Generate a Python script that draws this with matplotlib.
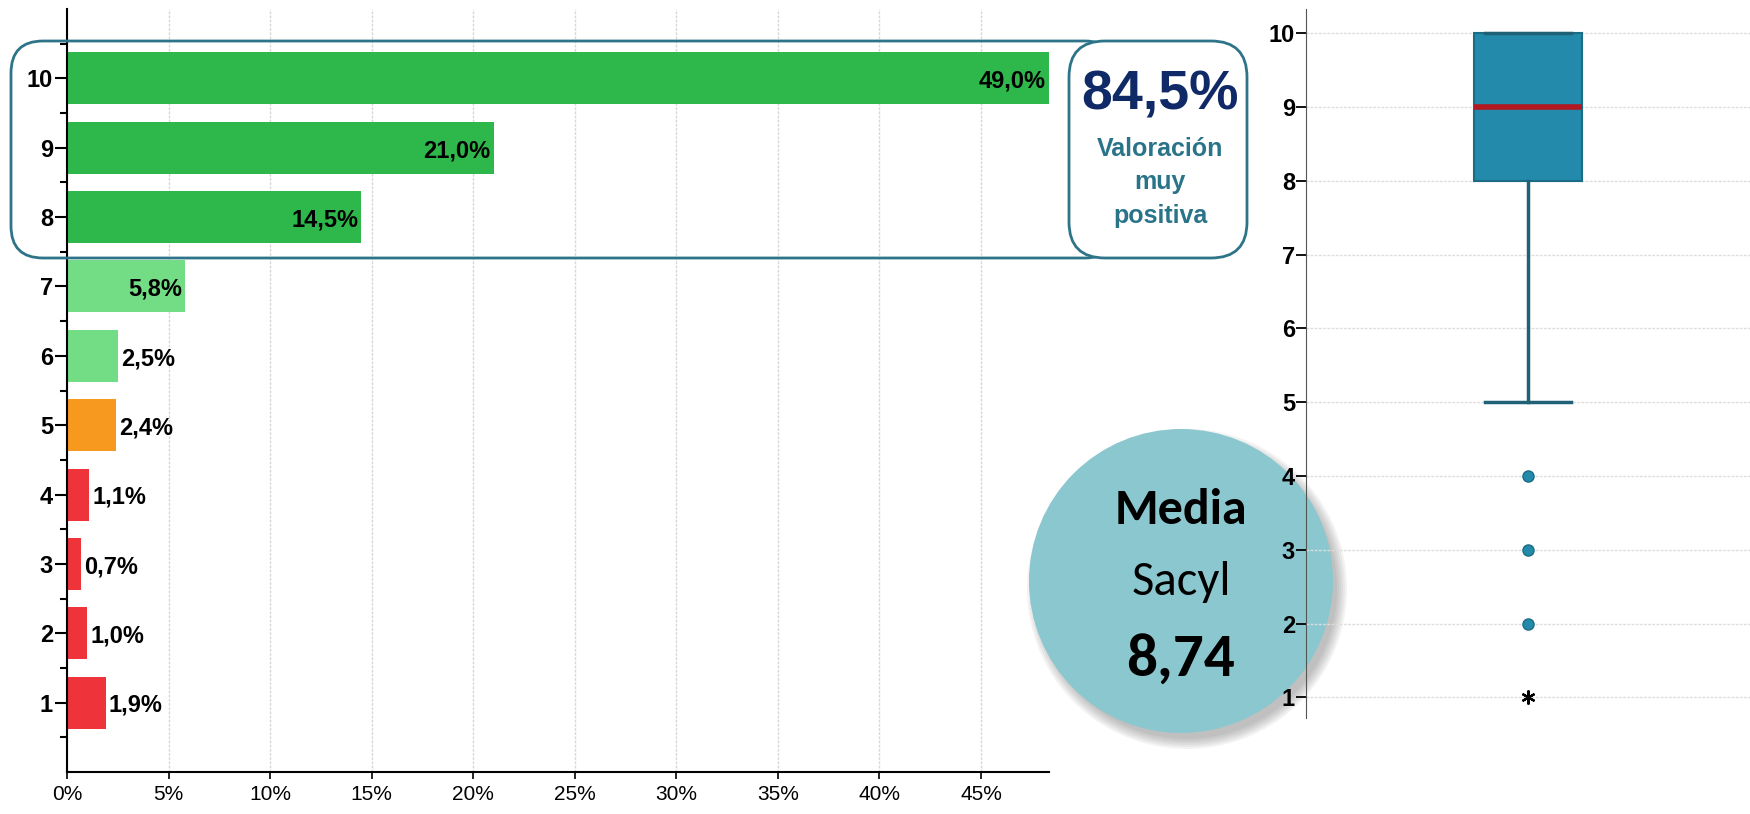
import matplotlib
matplotlib.use("Agg")
import matplotlib.pyplot as plt
from matplotlib.patches import FancyBboxPatch, Circle
from matplotlib.ticker import FixedLocator

# data
scores = [1, 2, 3, 4, 5, 6, 7, 8, 9, 10]
pcts = [1.9, 1.0, 0.7, 1.1, 2.4, 2.5, 5.8, 14.5, 21.0, 49.0]
bar_colors = ["#EF333B"] * 4 + ["#F7991F"] + ["#72DD85"] * 2 + ["#2EB84B"] * 3
xticks = [0, 5, 10, 15, 20, 25, 30, 35, 40, 45]

box_stats = dict(med=9, q1=8, q3=10, whislo=5, whishi=10, fliers=[4, 3, 2])
extremes = [1]

top_share = "84,5%"
top_label = "Valoración\nmuy\npositiva"
mean_value = "8,74"

narrow = ["Liberation Sans Narrow", "Liberation Sans", "DejaVu Sans"]
calib = ["Carlito", "Lato", "DejaVu Sans"]

W, H = 1750, 814
fig = plt.figure(figsize=(W / 100, H / 100), dpi=100)

# %% horizontal bars
ax = fig.add_axes([67 / W, 1 - 772 / H, (1049 - 67) / W, (772 - 9) / H], zorder=0)
ax.barh(scores, pcts, height=0.75, color=bar_colors, zorder=2)
ax.set_xlim(0, 48.35)
ax.set_ylim(0, 11)
ax.set_xticks(xticks)
ax.set_xticklabels([f"{t}%" for t in xticks], family=narrow, fontsize=15)
ax.set_yticks(scores)
ax.set_yticklabels([str(s) for s in scores], family=narrow, fontsize=17, fontweight="bold")
ax.yaxis.set_minor_locator(FixedLocator([s - 0.5 for s in scores] + [10.5]))
ax.tick_params(axis="y", which="major", length=9, width=1.5, pad=1)
ax.tick_params(axis="y", which="minor", length=5, width=1.5)
ax.tick_params(axis="x", length=5, width=1.2, pad=4)
ax.grid(axis="x", color="#D8D8D8", linestyle=(0, (2, 1)), lw=1, zorder=0)
for s in ["top", "right"]:
    ax.spines[s].set_visible(False)
for s in ["left", "bottom"]:
    ax.spines[s].set_linewidth(1.5)

xmax = ax.get_xlim()[1]
for s, v in zip(scores, pcts):
    txt = f"{v:.1f}%".replace(".", ",")
    if v > 5:
        ax.text(min(v, xmax) - 0.15, s - 0.04, txt, ha="right", va="center",
                family=narrow, fontsize=17, fontweight="bold", zorder=3)
    else:
        ax.text(v + 0.15, s - 0.04, txt, ha="left", va="center",
                family=narrow, fontsize=17, fontweight="bold", zorder=3)

# %% overlay: rounded boxes and the circle (under the box plot axis)
ov = fig.add_axes([0, 0, 1, 1], zorder=1)
ov.set_xlim(0, W)
ov.set_ylim(H, 0)
ov.axis("off")
ov.patch.set_alpha(0)

ov.add_patch(FancyBboxPatch((11, 41), 1117 - 11, 258 - 41,
                            boxstyle="round,pad=0,rounding_size=32",
                            fc="none", ec="#2E7488", lw=2))
ov.add_patch(FancyBboxPatch((1069, 41), 1247 - 1069, 258 - 41,
                            boxstyle="round,pad=0,rounding_size=36",
                            fc="white", ec="#2E7488", lw=2))
ov.text(1160, 95, top_share, ha="center", va="center", family=narrow,
        fontsize=40, fontweight="bold", color="#0F2A66")
ov.text(1160, 182, top_label, ha="center", va="center", family=narrow,
        fontsize=18, fontweight="bold", color="#2A7489", linespacing=1.5)

# soft shadow: a few faint stacked discs
for r in [160, 158, 156, 154, 152, 150]:
    ov.add_patch(Circle((1187, 589), r, fc="#555555", ec="none", alpha=0.07))
ov.add_patch(Circle((1181, 581), 152, fc="#8BC7CF", ec="none"))
ov.text(1181, 510, "Media", ha="center", va="center", family=calib,
        fontsize=36, fontweight="bold", color="black")
ov.text(1181, 582, "Sacyl", ha="center", va="center", family=calib,
        fontsize=35, color="black")
ov.text(1181, 660, mean_value, ha="center", va="center", family=calib,
        fontsize=44, fontweight="bold", color="black")

# %% box plot
bx = fig.add_axes([1306 / W, 1 - 718 / H, (W - 1306) / W, (718 - 9) / H], zorder=2)
bx.patch.set_alpha(0)
bx.bxp([box_stats], positions=[1], widths=0.49, patch_artist=True, showfliers=True,
       boxprops=dict(facecolor="#238AAC", edgecolor="#1B6C85", lw=1.5),
       medianprops=dict(color="#B3171F", lw=4),
       whiskerprops=dict(color="#1F6278", lw=2.5),
       capprops=dict(color="#1F6278", lw=2.5),
       capwidths=0.39,
       flierprops=dict(marker="o", markersize=8, markerfacecolor="#238AAC",
                       markeredgecolor="#1B6C85"))
bx.plot([1] * len(extremes), extremes, ls="none", marker=(6, 2, 0), markersize=10,
        color="black", mew=1.6)
bx.set_xlim(0, 2)
bx.set_ylim(0.72, 10.33)
bx.set_yticks(range(1, 11))
bx.set_yticklabels([str(i) for i in range(1, 11)], family=narrow, fontsize=17, fontweight="bold")
bx.set_xticks([])
bx.tick_params(axis="y", length=7, width=1.3, pad=1)
bx.grid(axis="y", color="#DDDDDD", linestyle=(0, (2, 1)), lw=1, zorder=0)
for s in ["top", "right", "bottom"]:
    bx.spines[s].set_visible(False)
bx.spines["left"].set_color("#555555")

fig.savefig("out.png", dpi=100)
